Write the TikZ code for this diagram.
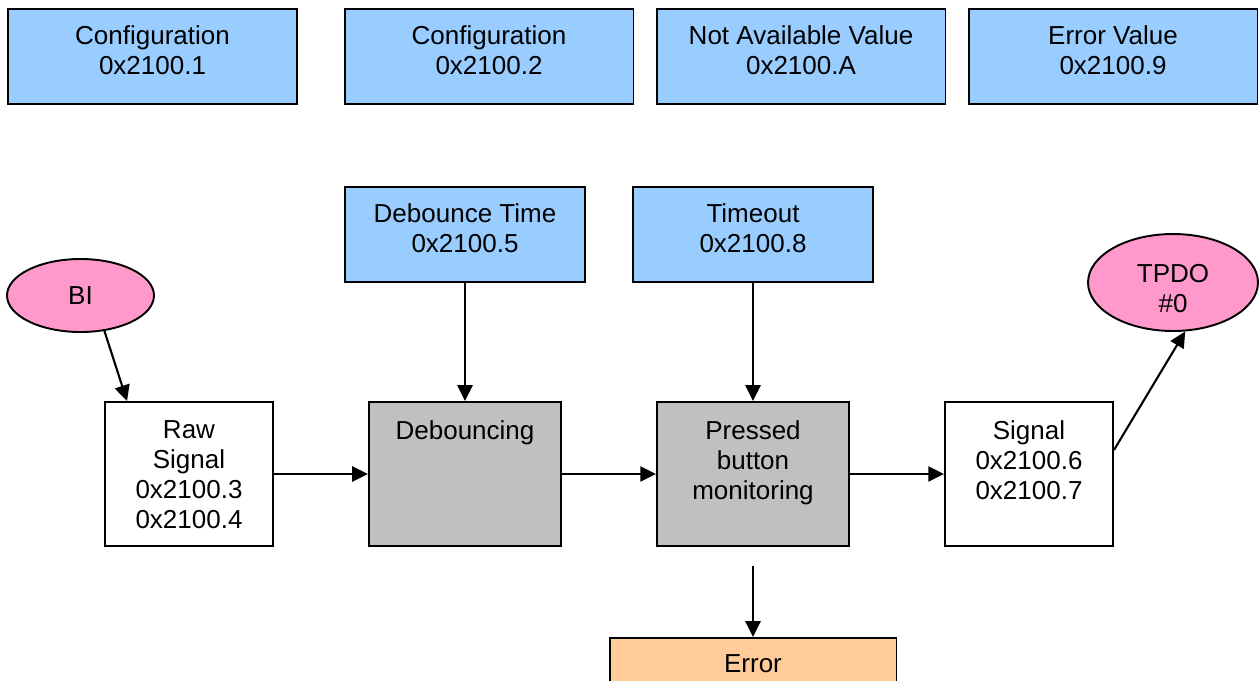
\documentclass[tikz,border=0pt]{standalone}
\usepackage{fontspec}
\setmainfont{Liberation Sans}
\usetikzlibrary{arrows.meta,shapes.geometric}
\definecolor{cfgblue}{HTML}{99CCFF}
\definecolor{iopink}{HTML}{FF99CC}
\definecolor{procgray}{HTML}{C0C0C0}
\definecolor{errorange}{HTML}{FFCC99}
\tikzset{
  base/.style={draw=black, line width=1.1pt, inner sep=0pt},
  txt/.style={align=center, inner sep=0pt, font=\fontsize{14.8}{17.1}\selectfont},
  toptext/.style={txt, anchor=north},
  param/.style={base, fill=cfgblue, minimum width=5.78cm, minimum height=1.9cm,
    label={[toptext, yshift=-0.35cm]north:#1}},
  subparam/.style={base, fill=cfgblue, minimum width=4.8cm, minimum height=1.9cm,
    label={[toptext, yshift=-0.35cm]north:#1}},
  sigbox/.style={base, fill=white, minimum width=3.36cm, minimum height=2.88cm,
    label={[toptext, yshift=-0.39cm]north:#1}},
  procbox/.style={base, fill=procgray, minimum width=3.84cm, minimum height=2.88cm,
    label={[toptext, yshift=-0.39cm]north:#1}},
  errbox/.style={base, fill=errorange, minimum width=5.74cm, minimum height=1.9cm,
    label={[toptext, yshift=-0.35cm]north:#1}},
  port/.style={base, ellipse, fill=iopink},
  porttext/.style={txt, anchor=center, yshift=#1},
  arr/.style={line width=1.2pt, -{Triangle[length=9pt,width=8.6pt]}}
}
\begin{document}
\begin{tikzpicture}[x=0.02cm, y=-0.02cm]
  \path[fill=white, use as bounding box] (0,0) rectangle (1260,680);
  \clip (0,0) rectangle (1260,680);

  % object dictionary parameters
  \node[param={Configuration\\0x2100.1}] (cfg1) at (152.5,56.5) {};
  \node[param={Configuration\\0x2100.2}] (cfg2) at (489,56.5) {};
  \node[param={Not Available Value\\0x2100.A}] (nav) at (801,56.5) {};
  \node[param={Error Value\\0x2100.9}] (errval) at (1113,56.5) {};

  \node[subparam={Debounce Time\\0x2100.5}] (dbt) at (465,234.5) {};
  \node[subparam={Timeout\\0x2100.8}] (tmo) at (753,234.5) {};

  % input and output
  \node[port, minimum width=2.94cm, minimum height=1.46cm,
        label={[porttext=0cm]center:BI}] (bi) at (80.5,295.5) {};
  \node[port, minimum width=3.4cm, minimum height=1.94cm,
        label={[porttext=-0.12cm]center:TPDO\\\#0}] (tpdo) at (1173,282.5) {};

  % processing chain
  \node[sigbox={Raw\\Signal\\0x2100.3\\0x2100.4}] (raw) at (189,474) {};
  \node[procbox={Debouncing}] (deb) at (465,474) {};
  \node[procbox={Pressed\\button\\monitoring}] (pbm) at (753,474) {};
  \node[sigbox={Signal\\0x2100.6\\0x2100.7}] (sig) at (1029,474) {};
  \node[errbox={Error}] (err) at (753,685.5) {};

  % connectors
  \draw[arr] (bi.-56) -- ([xshift=0.46cm]raw.north west);
  \draw[arr] (raw) -- (deb);
  \draw[arr] (deb) -- (pbm);
  \draw[arr] (pbm) -- (sig);
  \draw[arr] ([yshift=0.48cm]sig.east) -- (tpdo.-76);
  \draw[arr] (dbt) -- (deb);
  \draw[arr] (tmo) -- (pbm);
  \draw[arr] ([yshift=-0.38cm]pbm.south) -- (err.north);
\end{tikzpicture}
\end{document}
